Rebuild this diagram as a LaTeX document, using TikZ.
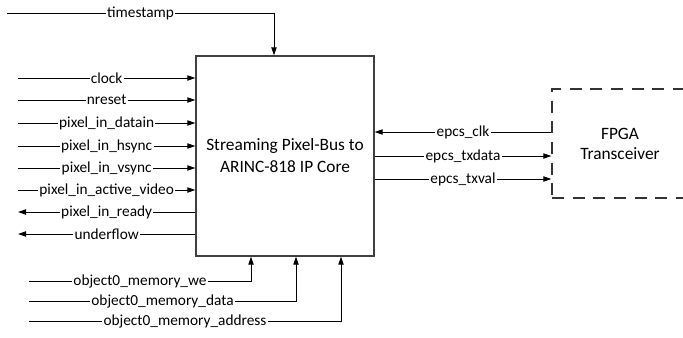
\documentclass[tikz,border=0pt]{standalone}
\usepackage{fontspec}
\setmainfont{Carlito}
\usetikzlibrary{arrows.meta}
\begin{document}
\begin{tikzpicture}[x=0.75pt,y=-0.75pt,
  sig/.style={line width=0.75pt, -{Triangle[length=6pt,width=4pt]}},
  sigout/.style={line width=0.75pt, {Triangle[length=6pt,width=4pt]}-},
  plain/.style={line width=0.75pt},
  lbl/.style={fill=white, inner xsep=1pt, inner ysep=0.5pt, font=\fontsize{11.5}{13}\selectfont},
  corebox/.style={draw=black!75, line width=1pt, minimum width=133.5pt, minimum height=150pt, inner sep=0pt, align=center, font=\fontsize{13}{16.5}\selectfont},
  fpgabox/.style={draw=black!80, line width=1pt, dash pattern=on 9pt off 6.5pt, minimum width=102pt, minimum height=81.75pt, inner sep=0pt, align=center, font=\fontsize{13}{15}\selectfont}]
\useasboundingbox (0,0) rectangle (683,337);
\node[corebox] (core) at (285,156) {Streaming Pixel-Bus to\\ARINC-818 IP Core};
\node[fpgabox] (fpga) at (620,143.5) {FPGA\\Transceiver};
% top
\coordinate (ts) at (7,13);
\coordinate (tsk) at (274,13);
\draw[sig] (ts) -- node[lbl]{timestamp} (tsk) -- (tsk |- core.north);
% left inputs
\coordinate (l1) at (18,78);
\coordinate (l2) at (18,100);
\coordinate (l3) at (18,123);
\coordinate (l4) at (18,146);
\coordinate (l5) at (18,168);
\coordinate (l6) at (18,190);
\coordinate (l7) at (18,212);
\coordinate (l8) at (18,234);
\draw[sig] (l1) -- node[lbl]{clock} (l1 -| core.west);
\draw[sig] (l2) -- node[lbl]{nreset} (l2 -| core.west);
\draw[sig] (l3) -- node[lbl]{pixel\_in\_datain} (l3 -| core.west);
\draw[sig] (l4) -- node[lbl]{pixel\_in\_hsync} (l4 -| core.west);
\draw[sig] (l5) -- node[lbl]{pixel\_in\_vsync} (l5 -| core.west);
\draw[sig] (l6) -- node[lbl]{pixel\_in\_active\_video} (l6 -| core.west);
\draw[sigout] (l7) -- node[lbl]{pixel\_in\_ready} (l7 -| core.west);
\draw[sigout] (l8) -- node[lbl]{underflow} (l8 -| core.west);
% bottom
\coordinate (b1) at (29,281);
\coordinate (b1k) at (251,281);
\coordinate (b2) at (29,301);
\coordinate (b2k) at (296,301);
\coordinate (b3) at (29,321);
\coordinate (b3k) at (341,321);
\draw[sig] (b1) -- node[lbl]{object0\_memory\_we} (b1k) -- (b1k |- core.south);
\draw[sig] (b2) -- node[lbl]{object0\_memory\_data} (b2k) -- (b2k |- core.south);
\draw[sig] (b3) -- node[lbl]{object0\_memory\_address} (b3k) -- (b3k |- core.south);
% right
\coordinate (r1) at (460,132);
\coordinate (r2) at (460,156);
\coordinate (r3) at (460,179);
\draw[sigout] (r1 -| core.east) -- node[lbl]{epcs\_clk} (r1 -| fpga.west);
\draw[sig] (r2 -| core.east) -- node[lbl]{epcs\_txdata} (r2 -| fpga.west);
\draw[sig] (r3 -| core.east) -- node[lbl]{epcs\_txval} (r3 -| fpga.west);
\end{tikzpicture}
\end{document}
